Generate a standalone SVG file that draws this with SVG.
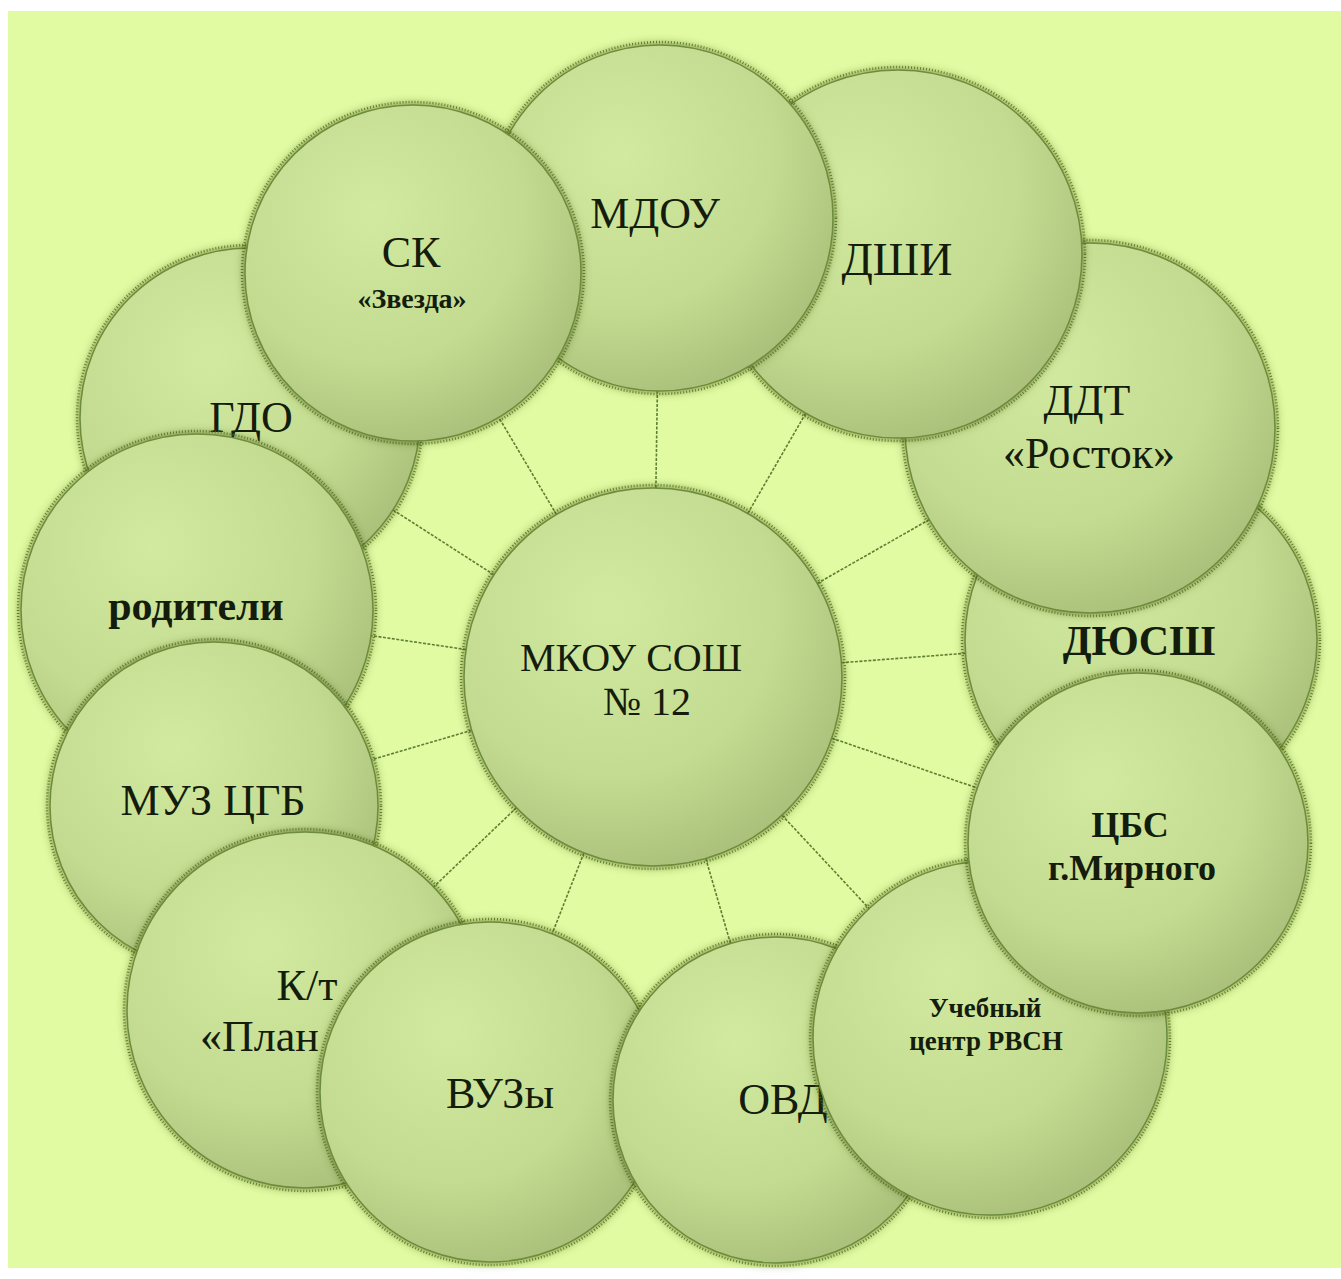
<svg xmlns="http://www.w3.org/2000/svg" width="1341" height="1279" viewBox="0 0 1341 1279">
<defs>
<radialGradient id="fill" cx="0.38" cy="0.32" r="0.75">
<stop offset="0" stop-color="#d2ea9f"/>
<stop offset="0.6" stop-color="#c3db90"/>
<stop offset="1" stop-color="#a7bd78"/>
</radialGradient>
<filter id="sh" x="-20%" y="-20%" width="140%" height="140%">
<feDropShadow dx="0" dy="0" stdDeviation="5" flood-color="#3c5218" flood-opacity="0.75"/>
</filter>
<style>
.c{fill:url(#fill);stroke:#6d8c3c;stroke-width:1.5;filter:url(#sh)}
.r{fill:none;stroke:#4f6e28;stroke-width:2.5;stroke-dasharray:1 2;opacity:0.8}
.t{font-family:"Liberation Serif","DejaVu Serif",serif;fill:#141c0c;text-anchor:middle}
.b{font-weight:bold}
.ln{stroke:#5f7f34;stroke-width:1.6;stroke-dasharray:3 1.5;fill:none}
</style>
</defs>
<rect x="0" y="0" width="1341" height="1279" fill="#ffffff"/>
<rect x="8" y="11" width="1333" height="1257" fill="#e0fba2"/>
<g id="connectors">
<line class="ln" x1="653" y1="677" x2="660" y2="218"/>
<line class="ln" x1="653" y1="677" x2="898" y2="254"/>
<line class="ln" x1="653" y1="677" x2="1090" y2="428"/>
<line class="ln" x1="653" y1="677" x2="1141" y2="640"/>
<line class="ln" x1="653" y1="677" x2="1138" y2="843"/>
<line class="ln" x1="653" y1="677" x2="990" y2="1038"/>
<line class="ln" x1="653" y1="677" x2="776" y2="1100"/>
<line class="ln" x1="653" y1="677" x2="490" y2="1092"/>
<line class="ln" x1="653" y1="677" x2="305" y2="1010"/>
<line class="ln" x1="653" y1="677" x2="214" y2="806"/>
<line class="ln" x1="653" y1="677" x2="197" y2="610"/>
<line class="ln" x1="653" y1="677" x2="250" y2="418"/>
<line class="ln" x1="653" y1="677" x2="413" y2="273"/>
</g>
<g id="n-dyussh"><circle class="r" cx="1141" cy="640" r="179"/><circle class="c" cx="1141" cy="640" r="176"/><text class="t b" x="1139" y="655" font-size="42">ДЮСШ</text></g>
<g id="n-ddt"><circle class="r" cx="1090" cy="428" r="188"/><circle class="c" cx="1090" cy="428" r="185"/><text class="t" x="1087" y="415" font-size="44">ДДТ</text><text class="t" x="1089" y="468" font-size="44">«Росток»</text></g>
<g id="n-dshi"><circle class="r" cx="898" cy="254" r="187"/><circle class="c" cx="898" cy="254" r="184"/><text class="t" x="897" y="275" font-size="46">ДШИ</text></g>
<g id="n-mdou"><circle class="r" cx="660" cy="218" r="176"/><circle class="c" cx="660" cy="218" r="173"/><text class="t" x="655" y="228" font-size="44">МДОУ</text></g>
<g id="n-gdo"><circle class="r" cx="250" cy="418" r="173"/><circle class="c" cx="250" cy="418" r="170"/><text class="t" x="251" y="432" font-size="44">ГДО</text></g>
<g id="n-sk"><circle class="r" cx="413" cy="273" r="171"/><circle class="c" cx="413" cy="273" r="168"/><text class="t" x="411" y="267" font-size="44">СК</text><text class="t b" x="412" y="308" font-size="28">«Звезда»</text></g>
<g id="n-roditeli"><circle class="r" cx="197" cy="610" r="179"/><circle class="c" cx="197" cy="610" r="176"/><text class="t b" x="196" y="620" font-size="42">родители</text></g>
<g id="n-muz"><circle class="r" cx="214" cy="806" r="167"/><circle class="c" cx="214" cy="806" r="164"/><text class="t" x="213" y="815" font-size="44">МУЗ ЦГБ</text></g>
<g id="n-kt"><circle class="r" cx="305" cy="1010" r="181"/><circle class="c" cx="305" cy="1010" r="178"/><text class="t" x="307" y="1000" font-size="44">К/т</text><text class="t" x="200" y="1051" font-size="44" style="text-anchor:start">«План</text></g>
<g id="n-vuzy"><circle class="r" cx="490" cy="1092" r="173"/><circle class="c" cx="490" cy="1092" r="170"/><text class="t" x="500" y="1108" font-size="44">ВУЗы</text></g>
<g id="n-ovd"><circle class="r" cx="776" cy="1100" r="166"/><circle class="c" cx="776" cy="1100" r="163"/><text class="t" x="783" y="1114" font-size="44">ОВД</text></g>
<g id="n-uch"><circle class="r" cx="990" cy="1038" r="180"/><circle class="c" cx="990" cy="1038" r="177"/><text class="t b" x="985" y="1017" font-size="27">Учебный</text><text class="t b" x="986" y="1050" font-size="27">центр РВСН</text></g>
<g id="n-cbs"><circle class="r" cx="1138" cy="843" r="173"/><circle class="c" cx="1138" cy="843" r="170"/><text class="t b" x="1130" y="837" font-size="36">ЦБС</text><text class="t b" x="1132" y="880" font-size="36">г.Мирного</text></g>
<g id="n-center"><circle class="r" cx="653" cy="677" r="192"/><circle class="c" cx="653" cy="677" r="189"/><text class="t" x="631" y="671" font-size="40">МКОУ СОШ</text><text class="t" x="647" y="715" font-size="40">№ 12</text></g>
</svg>
